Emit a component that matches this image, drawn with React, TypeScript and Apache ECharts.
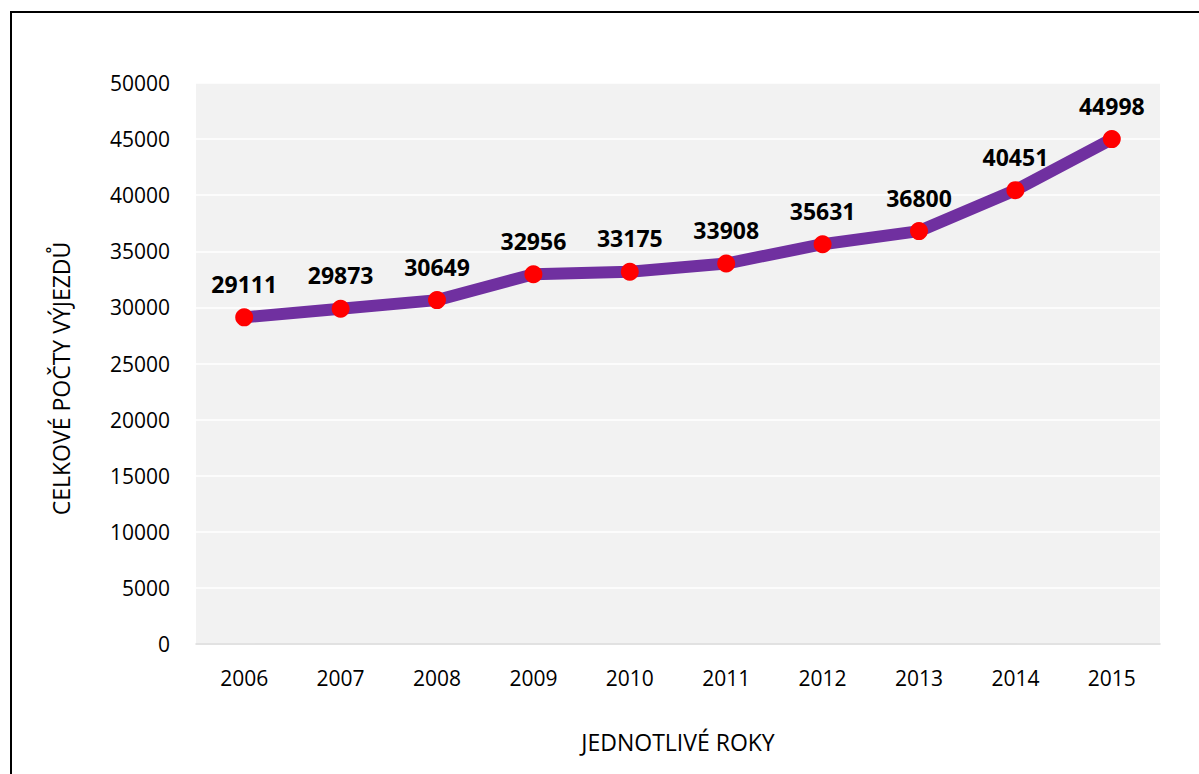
import React, { useEffect, useRef } from "react";
import * as echarts from "echarts";

const years = ["2006", "2007", "2008", "2009", "2010", "2011", "2012", "2013", "2014", "2015"];
const values = [29111, 29873, 30649, 32956, 33175, 33908, 35631, 36800, 40451, 44998];
const yAxisTitle = "CELKOVÉ POČTY VÝJEZDŮ";
const xAxisTitle = "JEDNOTLIVÉ ROKY";

const FONT = "'Open Sans', 'Noto Sans', sans-serif";

export default function App() {
  const ref = useRef<HTMLDivElement>(null);
  useEffect(() => {
    document.body.style.margin = "0";
    const chart = echarts.init(ref.current!, undefined, { renderer: "svg" });
    chart.setOption({
      animation: false,
      backgroundColor: "#ffffff",
      textStyle: { fontFamily: FONT },
      graphic: [
        {
          type: "rect",
          shape: { x: 11, y: 12, width: 1400, height: 1000 },
          style: { fill: "none", stroke: "#000000", lineWidth: 2 },
          silent: true,
          z: 100,
        },
        {
          type: "rect",
          shape: { x: 196, y: 83, width: 964, height: 561 },
          style: { fill: "#f2f2f2" },
          silent: true,
          z: -10,
        },
      ],
      grid: { left: 196, right: 39, top: 83, bottom: 130, containLabel: false },
      xAxis: {
        type: "category",
        data: years,
        boundaryGap: true,
        axisLine: { show: true, lineStyle: { color: "#d9d9d9", width: 1.5 } },
        axisTick: { show: false },
        axisLabel: { color: "#000", fontSize: 21, margin: 23, fontFamily: FONT },
        name: xAxisTitle,
        nameLocation: "middle",
        nameGap: 86,
        nameTextStyle: { color: "#000", fontSize: 23, fontFamily: FONT },
      },
      yAxis: {
        type: "value",
        min: 0,
        max: 50000,
        interval: 5000,
        axisLine: { show: false },
        axisTick: { show: false },
        splitLine: { show: true, lineStyle: { color: "#ffffff", width: 1.5 } },
        axisLabel: {
          color: "#000",
          fontSize: 21,
          margin: 26,
          fontFamily: FONT,
          formatter: (v: number) => String(v),
        },
        name: yAxisTitle,
        nameLocation: "middle",
        nameGap: 124,
        nameRotate: 90,
        nameTextStyle: { color: "#000", fontSize: 23, fontFamily: FONT, padding: [0, 30, 0, 0] },
      },
      series: [
        {
          type: "line",
          data: values,
          symbol: "circle",
          symbolSize: 18,
          itemStyle: { color: "#ff0000" },
          lineStyle: { color: "#7030a0", width: 12 },
          label: {
            show: true,
            position: "top",
            distance: 13,
            color: "#000",
            fontSize: 23,
            fontWeight: "bold",
            fontFamily: FONT,
          },
        },
      ],
    });
    return () => chart.dispose();
  }, []);
  return <div ref={ref} style={{ width: 1199, height: 774 }} />;
}
